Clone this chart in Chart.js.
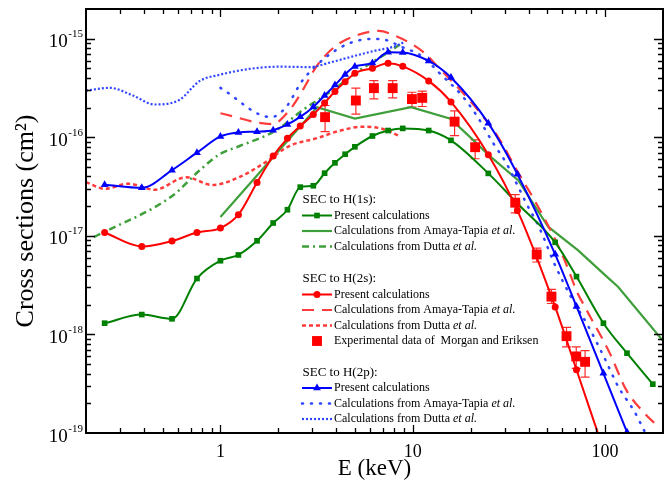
<!DOCTYPE html>
<html>
<head>
<meta charset="utf-8">
<script src="https://cdn.jsdelivr.net/npm/chart.js@4.4.0/dist/chart.umd.min.js"></script>
<style>
  html, body { margin: 0; padding: 0; background: #fff; }
  #wrap { width: 671px; height: 485px; }
</style>
</head>
<body>
<div id="wrap"><canvas id="chart" width="671" height="485"></canvas></div>
<script>
const serif = "'Liberation Serif', 'Times New Roman', Times, serif";

const xMin = 0.2, xMax = 200;
const yMin = 1e-19, yMax = 2e-15;
const xTickLabels = [1, 10, 100];
const yDecades = [-19, -18, -17, -16, -15];

// energies (keV) of the present calculations
const presentE = [0.25, 0.39, 0.56, 0.755, 1.0, 1.24, 1.55, 1.88, 2.23, 2.6, 3.04, 3.48, 3.94, 4.45, 5.0, 6.17, 7.44, 8.87, 12.1, 15.8, 24.7, 35, 55, 71, 98, 130, 177];

// SEC to H(1s)
const h1sPresent = [1.30e-18, 1.59e-18, 1.44e-18, 3.69e-18, 5.59e-18, 6.40e-18, 8.9e-18, 1.35e-17, 1.84e-17, 3.12e-17, 3.22e-17, 4.32e-17, 5.50e-17, 6.73e-17, 8.0e-17, 1.03e-16, 1.17e-16, 1.23e-16, 1.17e-16, 9.3e-17, 4.30e-17, 2.13e-17, 8.6e-18, 3.86e-18, 1.30e-18, 6.45e-19, 3.13e-19];
const h1sAmayaE = [1.0, 3.18, 5.0, 9.8, 15.7, 20.7, 25, 35.4, 50.7, 72.4, 100, 117, 150, 200];
const h1sAmaya = [1.55e-17, 2.02e-16, 1.55e-16, 2.02e-16, 1.54e-16, 9.3e-17, 6.5e-17, 3.65e-17, 1.23e-17, 7.13e-18, 4.0e-18, 3.03e-18, 1.69e-18, 8.6e-19];
const h1sDuttaE = [0.22, 0.566, 0.778, 1.0, 1.25, 1.94, 2.66, 3.8, 5.25, 7.22, 8.8];
const h1sDutta = [9.7e-18, 2.57e-17, 4.6e-17, 6.8e-17, 8.1e-17, 1.17e-16, 1.87e-16, 2.97e-16, 4.74e-16, 7.0e-16, 9.0e-16];

// SEC to H(2s)
const h2sPresent = [1.08e-17, 7.8e-18, 8.85e-18, 1.08e-17, 1.20e-17, 1.64e-17, 3.48e-17, 6.45e-17, 9.75e-17, 1.30e-16, 1.70e-16, 2.23e-16, 2.92e-16, 3.65e-16, 4.46e-16, 5.02e-16, 5.62e-16, 5.24e-16, 3.73e-16, 2.28e-16, 6.65e-17, 1.81e-17, 1.90e-18, 4.38e-19, 6.8e-20];
const h2sAmayaE = [1.0, 1.86, 2.28, 2.67, 3.13, 3.9, 5.04, 6.66, 8.1, 9.9, 11.65, 13.6, 20, 27.8, 35.2, 43, 52.4, 61.6, 72, 78.5, 105.7, 129, 160.6, 184.5];
const h2sAmaya = [1.75e-16, 1.36e-16, 1.87e-16, 2.97e-16, 5.1e-16, 8.2e-16, 1.07e-15, 1.20e-15, 1.07e-15, 8.8e-16, 7.0e-16, 5.1e-16, 2.3e-16, 1.0e-16, 4.43e-17, 2.29e-17, 1.11e-17, 5.65e-18, 2.62e-18, 1.9e-18, 6.46e-19, 2.72e-19, 1.58e-19, 1.21e-19];
const h2sDuttaE = [0.2, 0.251, 0.33, 0.455, 0.664, 0.909, 1.25, 1.72, 2.28, 3.18, 4.14, 5.46, 6.93, 8.44];
const h2sDutta = [3.5e-17, 3.0e-17, 3.38e-17, 2.94e-17, 3.93e-17, 3.28e-17, 3.93e-17, 5.6e-17, 8.15e-17, 9.8e-17, 1.16e-16, 1.28e-16, 1.22e-16, 1.04e-16];

// experimental data of Morgan and Eriksen (H(2s))
const expE = [3.5, 5.06, 6.28, 7.86, 9.9, 11.2, 16.5, 21.1, 34.1, 44.1, 52.6, 63, 70.8, 78.7];
const expVal = [1.60e-16, 2.36e-16, 3.15e-16, 3.15e-16, 2.44e-16, 2.51e-16, 1.44e-16, 7.93e-17, 2.17e-17, 6.47e-18, 2.42e-18, 9.6e-19, 5.98e-19, 5.27e-19];
const expHi = [2.10e-16, 3.15e-16, 3.76e-16, 3.76e-16, 2.86e-16, 2.94e-16, 1.85e-16, 9.4e-17, 2.62e-17, 7.52e-18, 2.86e-18, 1.18e-18, 7.48e-19, 6.84e-19];
const expLo = [1.14e-16, 1.72e-16, 2.45e-16, 2.51e-16, 2.02e-16, 2.05e-16, 1.04e-16, 6.05e-17, 1.71e-17, 5.43e-18, 2.06e-18, 7.48e-19, 4.52e-19, 3.69e-19];

// SEC to H(2p)
const h2pPresent = [3.30e-17, 3.07e-17, 4.64e-17, 6.98e-17, 1.02e-16, 1.12e-16, 1.14e-16, 1.18e-16, 1.35e-16, 1.61e-16, 2.03e-16, 2.65e-16, 3.38e-16, 4.34e-16, 5.23e-16, 5.65e-16, 7.3e-16, 7.26e-16, 5.94e-16, 4.03e-16, 1.39e-16, 4.22e-17, 6.5e-18, 1.92e-18, 4.03e-19, 1.02e-19];
const h2pAmayaE = [1.0, 1.83, 2.19, 2.67, 3.53, 4.57, 5.91, 6.79, 8.82, 11.2, 13.6, 18.0, 21.5, 26.3, 30.8, 34.7, 39.0, 44.0, 48.6, 53.5, 66.5, 81, 100, 116.5, 142, 160, 172];
const h2pAmaya = [3.17e-16, 1.6e-16, 2.01e-16, 3.76e-16, 6.47e-16, 8.8e-16, 9.9e-16, 9.9e-16, 8.2e-16, 6.6e-16, 4.58e-16, 2.65e-16, 1.66e-16, 8.6e-17, 5.38e-17, 3.38e-17, 2.12e-17, 1.38e-17, 9.0e-18, 5.65e-18, 2.4e-18, 1.25e-18, 5.6e-19, 3.0e-19, 1.65e-19, 1.05e-19, 8e-20];
const h2pDuttaE = [0.2, 0.266, 0.351, 0.455, 0.613, 0.778, 1.0, 1.41, 2.02, 2.89, 3.8, 4.83, 6.39, 8.13, 8.97];
const h2pDutta = [2.97e-16, 3.17e-16, 2.65e-16, 2.15e-16, 2.4e-16, 3.71e-16, 4.32e-16, 4.93e-16, 5.2e-16, 5.15e-16, 5.8e-16, 6.58e-16, 7.56e-16, 8.4e-16, 9.2e-16];

function pts(es, vs) {
    return vs.map((v, i) => ({ x: es[i], y: v }));
}

const green = '#008000', green2 = '#3f9f3a';
const red = '#ff0000', red2 = '#ff3b3b';
const blue = '#0000ff', blue2 = '#2f45ff';

const styles = {
    h1sPresent: { color: green, width: 2, dash: [], point: 'rect', r: 4 },
    h1sAmaya: { color: green2, width: 2.2, dash: [] },
    h1sDutta: { color: green2, width: 2.5, dash: [7, 4, 2, 4] },
    h2sPresent: { color: red, width: 2, dash: [], point: 'circle', r: 3.5 },
    h2sAmaya: { color: red2, width: 2.2, dash: [12, 8] },
    h2sDutta: { color: red2, width: 2.5, dash: [4, 3] },
    exp: { color: red, width: 0, dash: [], point: 'rect', r: 7 },
    h2pPresent: { color: blue, width: 2, dash: [], point: 'triangle', r: 4.5 },
    h2pAmaya: { color: blue2, width: 2.5, dash: [1, 8], cap: 'round' },
    h2pDutta: { color: blue2, width: 2.2, dash: [2, 2] }
};

function ds(key, data, tension) {
    const s = styles[key];
    return {
        label: key,
        data: data,
        borderColor: s.color,
        backgroundColor: s.color,
        borderWidth: s.width,
        borderDash: s.dash,
        borderCapStyle: s.cap || 'butt',
        showLine: key !== 'exp',
        pointStyle: s.point || 'circle',
        pointRadius: s.point ? s.r : 0,
        pointHoverRadius: s.point ? s.r : 0,
        pointBorderWidth: 0,
        cubicInterpolationMode: tension === 0 ? 'default' : 'monotone',
        tension: 0
    };
}

const legendRows = [
    { header: 'SEC to H(1s):', y: 200 },
    { key: 'h1sPresent', text: 'Present calculations', y: 215.5 },
    { key: 'h1sAmaya', text: 'Calculations from Amaya-Tapia ', it: 'et al.', y: 231 },
    { key: 'h1sDutta', text: 'Calculations from Dutta ', it: 'et al.', y: 246.5 },
    { header: 'SEC to H(2s):', y: 279 },
    { key: 'h2sPresent', text: 'Present calculations', y: 294.5 },
    { key: 'h2sAmaya', text: 'Calculations from Amaya-Tapia ', it: 'et al.', y: 310 },
    { key: 'h2sDutta', text: 'Calculations from Dutta ', it: 'et al.', y: 325.5 },
    { key: 'exp', text: 'Experimental data of  Morgan and Eriksen', y: 341 },
    { header: 'SEC to H(2p):', y: 372.5 },
    { key: 'h2pPresent', text: 'Present calculations', y: 388 },
    { key: 'h2pAmaya', text: 'Calculations from Amaya-Tapia ', it: 'et al.', y: 403.5 },
    { key: 'h2pDutta', text: 'Calculations from Dutta ', it: 'et al.', y: 419 }
];

function drawMarker(ctx, style, x, y) {
    const r = style.r;
    ctx.fillStyle = style.color;
    ctx.beginPath();
    if (style.point === 'rect') {
        const s = r * Math.SQRT1_2;
        ctx.rect(x - s, y - s, 2 * s, 2 * s);
    } else if (style.point === 'circle') {
        ctx.arc(x, y, r, 0, Math.PI * 2);
    } else {
        ctx.moveTo(x, y - r);
        ctx.lineTo(x + r * 0.87, y + r * 0.5);
        ctx.lineTo(x - r * 0.87, y + r * 0.5);
        ctx.closePath();
    }
    ctx.fill();
}

const axisPlugin = {
    id: 'axisPlugin',
    beforeDatasetsDraw(chart) {
        // error bars of the experimental data
        const { ctx, scales: { x, y } } = chart;
        ctx.save();
        ctx.strokeStyle = '#ff2a2a';
        ctx.lineWidth = 1.2;
        ctx.beginPath();
        expE.forEach((e, i) => {
            const px = x.getPixelForValue(e);
            const top = y.getPixelForValue(expHi[i]);
            const bot = y.getPixelForValue(expLo[i]);
            ctx.moveTo(px, top); ctx.lineTo(px, bot);
            ctx.moveTo(px - 4.5, top); ctx.lineTo(px + 4.5, top);
            ctx.moveTo(px - 4.5, bot); ctx.lineTo(px + 4.5, bot);
        });
        ctx.stroke();
        ctx.restore();
    },
    afterDatasetsDraw(chart) {
        const { ctx, chartArea: a, scales: { x, y } } = chart;
        ctx.save();
        ctx.strokeStyle = '#000';
        ctx.lineWidth = 1.3;
        ctx.beginPath();
        // x ticks, top and bottom, pointing inward
        for (let p = -1; p <= 2; p++) {
            for (let k = 1; k <= 9; k++) {
                const v = k * Math.pow(10, p);
                if (v <= xMin * 1.001 || v >= xMax * 0.999) continue;
                const px = Math.round(x.getPixelForValue(v)) + 0.5;
                const len = k === 1 ? 8 : 5;
                ctx.moveTo(px, a.bottom); ctx.lineTo(px, a.bottom - len);
                ctx.moveTo(px, a.top); ctx.lineTo(px, a.top + len);
            }
        }
        // y ticks, left and right
        for (let p = -19; p <= -15; p++) {
            for (let k = 1; k <= 9; k++) {
                const v = k * Math.pow(10, p);
                if (v <= yMin * 1.001 || v >= yMax * 0.999) continue;
                const py = Math.round(y.getPixelForValue(v)) + 0.5;
                const len = k === 1 ? 9 : 5;
                ctx.moveTo(a.left, py); ctx.lineTo(a.left + len, py);
                ctx.moveTo(a.right, py); ctx.lineTo(a.right - len, py);
            }
        }
        ctx.stroke();
        ctx.lineWidth = 2;
        ctx.strokeRect(a.left, a.top, a.right - a.left, a.bottom - a.top);

        // y tick labels 10^n
        ctx.fillStyle = '#000';
        ctx.textAlign = 'right';
        ctx.textBaseline = 'alphabetic';
        yDecades.forEach(p => {
            const py = y.getPixelForValue(Math.pow(10, p));
            const exp = String(p);
            ctx.font = '11px ' + serif;
            ctx.fillText(exp, a.left - 3, py - 1.5);
            const w = ctx.measureText(exp).width;
            ctx.font = '19px ' + serif;
            ctx.fillText('10', a.left - 3 - w - 0.5, py + 8.5);
        });
        ctx.restore();
    },
    afterDraw(chart) {
        const ctx = chart.ctx;
        const x0 = 302, x1 = 332, tx = 334;
        ctx.save();
        ctx.fillStyle = '#000';
        ctx.textBaseline = 'middle';
        ctx.textAlign = 'left';
        legendRows.forEach(row => {
            if (row.header) {
                ctx.font = '13px ' + serif;
                ctx.fillText(row.header, 302.5, row.y);
                return;
            }
            const s = styles[row.key];
            if (row.key !== 'exp') {
                ctx.strokeStyle = s.color;
                ctx.lineWidth = s.width;
                ctx.setLineDash(s.dash);
                ctx.lineCap = s.cap || 'butt';
                ctx.beginPath();
                ctx.moveTo(x0, row.y);
                ctx.lineTo(x1, row.y);
                ctx.stroke();
                ctx.setLineDash([]);
            }
            if (s.point) drawMarker(ctx, s, (x0 + x1) / 2, row.y);
            ctx.fillStyle = '#000';
            ctx.font = '12px ' + serif;
            ctx.fillText(row.text, tx, row.y);
            if (row.it) {
                const w = ctx.measureText(row.text).width;
                ctx.font = 'italic 12px ' + serif;
                ctx.fillText(row.it, tx + w, row.y);
            }
        });
        ctx.restore();
    }
};

Chart.defaults.font.family = serif;
Chart.defaults.color = '#000';

new Chart(document.getElementById('chart').getContext('2d'), {
    type: 'line',
    data: {
        datasets: [
            ds('exp', pts(expE, expVal)),
            ds('h2pPresent', pts(presentE, h2pPresent)),
            ds('h2sPresent', pts(presentE, h2sPresent)),
            ds('h1sPresent', pts(presentE, h1sPresent)),
            ds('h2pAmaya', pts(h2pAmayaE, h2pAmaya)),
            ds('h2pDutta', pts(h2pDuttaE, h2pDutta)),
            ds('h2sAmaya', pts(h2sAmayaE, h2sAmaya)),
            ds('h2sDutta', pts(h2sDuttaE, h2sDutta)),
            ds('h1sAmaya', pts(h1sAmayaE, h1sAmaya), 0),
            ds('h1sDutta', pts(h1sDuttaE, h1sDutta))
        ]
    },
    options: {
        responsive: false,
        animation: false,
        devicePixelRatio: 1,
        layout: { padding: { top: 9, right: 8, left: 0, bottom: 0 } },
        plugins: { legend: { display: false }, tooltip: { enabled: false } },
        scales: {
            x: {
                type: 'logarithmic',
                min: xMin,
                max: xMax,
                afterBuildTicks: s => { s.ticks = xTickLabels.map(v => ({ value: v })); },
                afterFit: s => { s.height = 52; },
                ticks: {
                    callback: v => String(v),
                    autoSkip: false,
                    maxRotation: 0,
                    padding: 8,
                    font: { family: serif, size: 18 },
                    color: '#000'
                },
                grid: { display: false, drawTicks: false },
                border: { display: false },
                title: {
                    display: true,
                    text: 'E (keV)',
                    font: { family: serif, size: 23 },
                    color: '#000',
                    padding: { top: 0, bottom: 2 }
                }
            },
            y: {
                type: 'logarithmic',
                min: yMin,
                max: yMax,
                afterFit: s => { s.width = 86; },
                ticks: { display: false },
                grid: { display: false, drawTicks: false },
                border: { display: false },
                title: {
                    display: true,
                    text: 'Cross sections (cm\u00B2)',
                    font: { family: serif, size: 26 },
                    color: '#000',
                    padding: { top: 11, bottom: 0 }
                }
            }
        }
    },
    plugins: [axisPlugin]
});
</script>
</body>
</html>
